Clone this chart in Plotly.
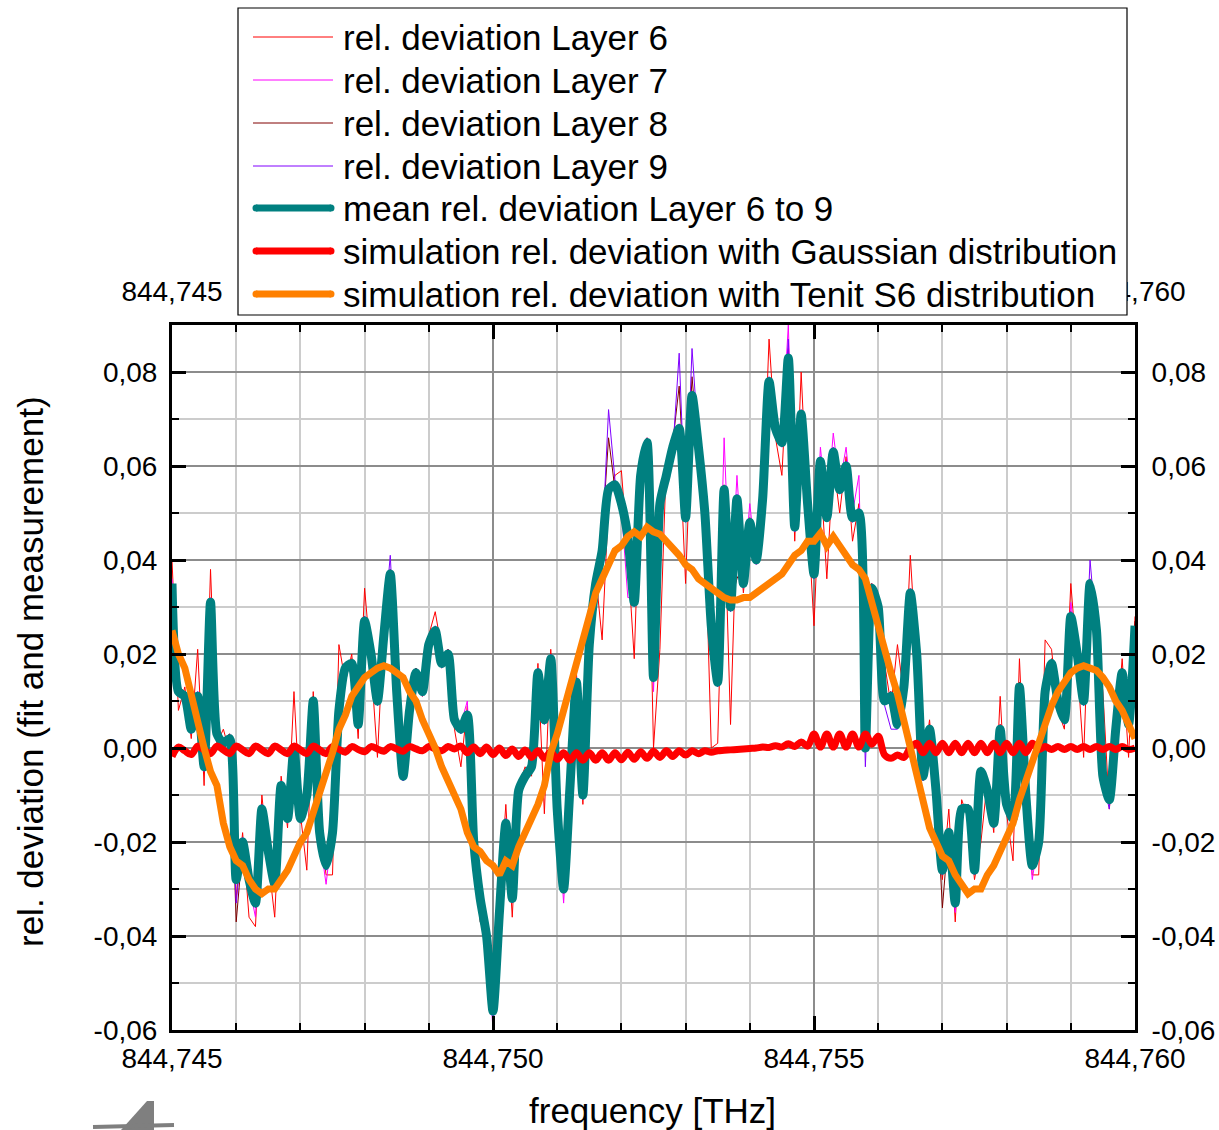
import numpy as np
import plotly.graph_objects as go

# ---------------------------------------------------------------- data
FREQ_START = 844.745   # THz
FREQ_STEP = 0.0001     # THz
N_POINTS = 151
freq = np.round(FREQ_START + FREQ_STEP * np.arange(N_POINTS), 4)

layer6 = [
    0.040, 0.008, 0.013, 0.002, 0.021, -0.008, 0.038, 0.001, 0.004, -0.001,
    -0.032, -0.018, -0.036, -0.038, -0.010, -0.024, -0.036, -0.006, -0.017, 0.012,
    -0.014, -0.026, 0.012, -0.016, -0.027, -0.027, 0.022, 0.014, 0.020, 0.002,
    0.034, 0.018, -0.002, 0.026, 0.034, 0.014, -0.005, 0.010, 0.014, 0.013,
    0.024, 0.029, 0.021, 0.018, 0.004, -0.004, 0.009, -0.022, -0.030, -0.041,
    -0.055, -0.033, -0.012, -0.036, -0.008, -0.004, -0.006, 0.018, -0.014, 0.021,
    -0.015, -0.031, -0.006, 0.016, -0.012, 0.023, 0.037, 0.023, 0.052, 0.058,
    0.059, 0.041, 0.019, 0.060, 0.063, 0.000, 0.021, 0.061, 0.062, 0.066,
    0.035, 0.073, 0.066, 0.048, 0.000, 0.001, 0.052, 0.005, 0.050, 0.033,
    0.046, 0.042, 0.051, 0.087, 0.066, 0.058, 0.085, 0.044, 0.080, 0.050,
    0.026, 0.059, 0.036, 0.061, 0.050, 0.062, 0.044, 0.052, 0.002, 0.032,
    0.028, 0.018, 0.009, 0.022, 0.011, 0.041, 0.018, -0.004, 0.006, -0.011,
    -0.028, -0.013, -0.037, -0.011, -0.015, -0.028, -0.020, -0.007, -0.018, 0.011,
    -0.014, -0.024, 0.019, -0.012, -0.027, -0.027, 0.023, 0.021, 0.008, 0.004,
    0.035, 0.018, -0.002, 0.036, 0.023, 0.012, -0.013, 0.002, 0.019, -0.002,
    0.028,
]

layer7 = [
    0.036, 0.013, 0.010, 0.005, 0.012, -0.003, 0.032, 0.004, 0.000, 0.003,
    -0.027, -0.021, -0.029, -0.036, -0.014, -0.021, -0.030, -0.009, -0.014, -0.001,
    -0.016, -0.009, 0.009, -0.019, -0.029, -0.017, 0.007, 0.018, 0.017, 0.006,
    0.026, 0.021, 0.011, 0.023, 0.038, 0.011, -0.007, 0.007, 0.017, 0.011,
    0.021, 0.024, 0.019, 0.021, 0.007, 0.005, 0.010, -0.019, -0.033, -0.039,
    -0.060, -0.036, -0.017, -0.031, -0.010, -0.007, -0.003, 0.015, 0.007, 0.018,
    -0.012, -0.033, -0.009, 0.013, -0.009, 0.021, 0.034, 0.043, 0.054, 0.057,
    0.051, 0.032, 0.032, 0.057, 0.066, 0.012, 0.053, 0.057, 0.065, 0.069,
    0.050, 0.076, 0.063, 0.051, 0.027, 0.015, 0.066, 0.031, 0.058, 0.036,
    0.052, 0.039, 0.054, 0.077, 0.069, 0.066, 0.090, 0.046, 0.070, 0.053,
    0.038, 0.064, 0.050, 0.067, 0.056, 0.064, 0.050, 0.058, -0.001, 0.035,
    0.029, 0.011, 0.012, 0.006, 0.014, 0.034, 0.019, -0.007, 0.003, -0.010,
    -0.025, -0.019, -0.035, -0.014, -0.012, -0.027, -0.006, -0.010, -0.015, 0.005,
    -0.013, -0.016, 0.012, -0.011, -0.028, -0.019, 0.013, 0.017, 0.011, 0.007,
    0.031, 0.021, 0.011, 0.034, 0.026, -0.008, -0.010, 0.005, 0.015, 0.006,
    0.025,
]

layer8 = [
    0.034, 0.013, 0.012, 0.005, 0.010, -0.003, 0.030, 0.004, 0.002, 0.003,
    -0.037, -0.021, -0.027, -0.032, -0.012, -0.021, -0.028, -0.009, -0.014, 0.001,
    -0.016, -0.011, 0.011, -0.017, -0.024, -0.019, 0.009, 0.016, 0.019, 0.004,
    0.028, 0.021, 0.011, 0.023, 0.038, 0.011, -0.005, 0.007, 0.017, 0.011,
    0.023, 0.024, 0.017, 0.021, 0.007, 0.005, 0.006, -0.021, -0.037, -0.040,
    -0.055, -0.036, -0.017, -0.031, -0.010, -0.007, -0.003, 0.015, 0.007, 0.018,
    -0.012, -0.029, -0.009, 0.013, -0.009, 0.023, 0.034, 0.045, 0.066, 0.055,
    0.051, 0.046, 0.032, 0.057, 0.066, 0.016, 0.053, 0.057, 0.065, 0.077,
    0.050, 0.079, 0.063, 0.051, 0.027, 0.015, 0.056, 0.031, 0.036, 0.039,
    0.049, 0.041, 0.054, 0.077, 0.069, 0.066, 0.082, 0.048, 0.070, 0.053,
    0.038, 0.060, 0.050, 0.062, 0.056, 0.059, 0.050, 0.049, 0.001, 0.035,
    0.031, 0.011, 0.012, 0.006, 0.014, 0.033, 0.021, -0.005, 0.005, -0.008,
    -0.034, -0.017, -0.032, -0.014, -0.012, -0.025, -0.004, -0.010, -0.015, 0.005,
    -0.011, -0.014, 0.014, -0.009, -0.024, -0.021, 0.013, 0.019, 0.011, 0.007,
    0.029, 0.019, 0.011, 0.032, 0.026, -0.005, -0.012, 0.003, 0.017, 0.004,
    0.027,
]

layer9 = [
    0.035, 0.011, 0.012, 0.003, 0.012, -0.005, 0.031, 0.002, 0.002, 0.001,
    -0.033, -0.019, -0.029, -0.034, -0.012, -0.023, -0.030, -0.007, -0.016, 0.001,
    -0.014, -0.011, 0.009, -0.019, -0.026, -0.017, 0.007, 0.018, 0.017, 0.006,
    0.028, 0.019, 0.009, 0.025, 0.041, 0.013, -0.007, 0.009, 0.015, 0.013,
    0.023, 0.026, 0.017, 0.019, 0.005, 0.003, 0.008, -0.019, -0.031, -0.041,
    -0.057, -0.034, -0.015, -0.033, -0.008, -0.005, -0.005, 0.017, 0.005, 0.020,
    -0.014, -0.029, -0.007, 0.015, -0.011, 0.021, 0.036, 0.043, 0.072, 0.057,
    0.053, 0.044, 0.030, 0.059, 0.064, 0.014, 0.051, 0.059, 0.063, 0.084,
    0.048, 0.085, 0.065, 0.049, 0.025, 0.013, 0.054, 0.029, 0.054, 0.034,
    0.047, 0.041, 0.058, 0.079, 0.067, 0.064, 0.087, 0.046, 0.072, 0.051,
    0.036, 0.062, 0.057, 0.064, 0.054, 0.061, 0.048, 0.051, -0.004, 0.033,
    0.030, 0.009, 0.004, 0.004, 0.012, 0.033, 0.019, -0.007, 0.003, -0.010,
    -0.027, -0.019, -0.034, -0.012, -0.014, -0.027, -0.006, -0.008, -0.017, 0.003,
    -0.013, -0.016, 0.012, -0.011, -0.026, -0.019, 0.011, 0.017, 0.009, 0.005,
    0.029, 0.021, 0.009, 0.040, 0.024, -0.007, -0.013, 0.005, 0.015, 0.006,
    0.025,
]

mean_layers = [
    0.035, 0.012, 0.011, 0.004, 0.011, -0.004, 0.031, 0.003, 0.001, 0.002,
    -0.028, -0.020, -0.028, -0.033, -0.013, -0.022, -0.029, -0.008, -0.015, 0.000,
    -0.015, -0.010, 0.010, -0.018, -0.025, -0.018, 0.008, 0.017, 0.018, 0.005,
    0.027, 0.020, 0.010, 0.024, 0.037, 0.012, -0.006, 0.008, 0.016, 0.012,
    0.022, 0.025, 0.018, 0.020, 0.006, 0.004, 0.007, -0.020, -0.032, -0.040,
    -0.056, -0.035, -0.016, -0.032, -0.009, -0.006, -0.004, 0.016, 0.006, 0.019,
    -0.013, -0.030, -0.008, 0.014, -0.010, 0.022, 0.035, 0.042, 0.055, 0.056,
    0.052, 0.045, 0.031, 0.058, 0.065, 0.015, 0.052, 0.058, 0.064, 0.068,
    0.049, 0.075, 0.064, 0.050, 0.026, 0.014, 0.055, 0.030, 0.053, 0.035,
    0.048, 0.040, 0.053, 0.078, 0.068, 0.065, 0.083, 0.047, 0.071, 0.052,
    0.037, 0.061, 0.049, 0.063, 0.055, 0.060, 0.049, 0.050, 0.000, 0.034,
    0.030, 0.010, 0.011, 0.005, 0.013, 0.033, 0.020, -0.006, 0.004, -0.009,
    -0.026, -0.018, -0.033, -0.013, -0.013, -0.026, -0.005, -0.009, -0.016, 0.004,
    -0.012, -0.015, 0.013, -0.010, -0.025, -0.020, 0.012, 0.018, 0.010, 0.006,
    0.028, 0.020, 0.010, 0.035, 0.025, -0.006, -0.011, 0.004, 0.016, 0.005,
    0.026,
]

sim_gaussian = [
    -0.0018, 0.0002, -0.0006, -0.0014, 0.0004, -0.0004, -0.0012, 0.0004, -0.0004, -0.0012,
    0.0004, -0.0004, -0.0012, 0.0004, -0.0004, -0.0012, 0.0004, -0.0004, -0.0012, 0.0004,
    -0.0004, -0.0012, 0.0004, -0.0004, -0.0012, 0.0003, -0.0003, -0.0009, 0.0003, -0.0003,
    -0.0008, 0.0003, -0.0002, -0.0007, 0.0003, -0.0002, -0.0007, 0.0003, -0.0002, -0.0006,
    0.0003, -0.0002, -0.0006, 0.0003, -0.0002, 0.0004, -0.0010, 0.0002, -0.0012, 0.0002,
    -0.0014, 0.0000, -0.0016, -0.0002, -0.0018, -0.0004, -0.0020, -0.0006, -0.0022, -0.0008,
    -0.0024, -0.0010, -0.0026, -0.0010, -0.0026, -0.0010, -0.0026, -0.0010, -0.0026, -0.0010,
    -0.0025, -0.0009, -0.0024, -0.0008, -0.0022, -0.0007, -0.0020, -0.0006, -0.0018, -0.0006,
    -0.0015, -0.0006, -0.0012, -0.0006, -0.0009, -0.0006, -0.0005, -0.0004, -0.0003, -0.0002,
    -0.0001, 0.0000, 0.0002, 0.0001, 0.0005, 0.0002, 0.0009, 0.0003, 0.0013, 0.0004,
    0.0030, 0.0002, 0.0030, 0.0002, 0.0030, 0.0002, 0.0030, 0.0002, 0.0030, 0.0008,
    0.0025, -0.0015, -0.0022, -0.0015, -0.0020, 0.0000, 0.0010, -0.0010, 0.0010, -0.0010,
    0.0010, -0.0010, 0.0010, -0.0010, 0.0010, -0.0010, 0.0010, -0.0010, 0.0010, -0.0010,
    0.0010, -0.0010, 0.0010, -0.0010, 0.0010, -0.0003, 0.0003, -0.0003, 0.0003, -0.0003,
    0.0003, -0.0003, 0.0003, -0.0003, 0.0003, -0.0003, 0.0003, -0.0003, 0.0003, -0.0003,
    0.0000,
]

sim_tenit_s6 = [
    0.025, 0.020, 0.017, 0.011, 0.005, 0.000, -0.005, -0.008, -0.016, -0.021,
    -0.024, -0.025, -0.028, -0.030, -0.031, -0.030, -0.030, -0.028, -0.026, -0.023,
    -0.020, -0.018, -0.014, -0.010, -0.005, -0.001, 0.004, 0.007, 0.011, 0.013,
    0.015, 0.016, 0.017, 0.0175, 0.017, 0.016, 0.015, 0.012, 0.010, 0.006,
    0.003, 0.000, -0.004, -0.007, -0.010, -0.013, -0.018, -0.021, -0.022, -0.024,
    -0.025, -0.027, -0.024, -0.025, -0.021, -0.018, -0.015, -0.012, -0.008, -0.001,
    0.003, 0.008, 0.013, 0.019, 0.023, 0.029, 0.033, 0.036, 0.039, 0.042,
    0.043, 0.045, 0.046, 0.045, 0.047, 0.046, 0.0455, 0.044, 0.043, 0.041,
    0.039, 0.038, 0.036, 0.035, 0.034, 0.033, 0.032, 0.0315, 0.0315, 0.032,
    0.032, 0.033, 0.034, 0.035, 0.036, 0.037, 0.039, 0.041, 0.042, 0.044,
    0.044, 0.0457, 0.043, 0.045, 0.043, 0.041, 0.039, 0.038, 0.036, 0.031,
    0.026, 0.020, 0.016, 0.0115, 0.006, 0.000, -0.005, -0.011, -0.017, -0.020,
    -0.023, -0.024, -0.027, -0.029, -0.031, -0.030, -0.030, -0.027, -0.025, -0.022,
    -0.019, -0.016, -0.011, -0.007, -0.002, 0.002, 0.006, 0.009, 0.012, 0.014,
    0.016, 0.017, 0.0175, 0.017, 0.0165, 0.015, 0.013, 0.010, 0.008, 0.005,
    0.002,
]

series_names = [
    "rel. deviation Layer 6",
    "rel. deviation Layer 7",
    "rel. deviation Layer 8",
    "rel. deviation Layer 9",
    "mean rel. deviation Layer 6 to 9",
    "simulation rel. deviation with Gaussian distribution",
    "simulation rel. deviation with Tenit S6 distribution",
]

x_tick_vals = [844.745, 844.750, 844.755, 844.760]
x_tick_text = ["844,745", "844,750", "844,755", "844,760"]
# on the top axis the two middle labels sit behind the legend box
x_top_tick_text = ["844,745", "", "", "844,760"]
x_minor_vals = [844.746, 844.747, 844.748, 844.749, 844.751, 844.752, 844.753,
                844.754, 844.756, 844.757, 844.758, 844.759]
y_tick_vals = [-0.06, -0.04, -0.02, 0.00, 0.02, 0.04, 0.06, 0.08]
y_tick_text = ["-0,06", "-0,04", "-0,02", "0,00", "0,02", "0,04", "0,06", "0,08"]
y_minor_vals = [-0.05, -0.03, -0.01, 0.01, 0.03, 0.05, 0.07]

X_RANGE = [844.745, 844.760]
Y_RANGE = [-0.06, 0.09]

# ---------------------------------------------------------------- styling
FONT = "Liberation Sans, Arial, Helvetica, sans-serif"
TEAL = "#008080"
ORANGE = "#FF8000"
RED = "#FF0000"
colors = ["#FF0000", "#FF00FF", "#800000", "#8000FF", TEAL, RED, ORANGE]
widths = [1, 1, 1, 1, 8, 7, 7]

W, H = 1219, 1130
ML, MR, MT, MB = 172, 84, 325, 100
PW, PH = W - ML - MR, H - MT - MB


def px_x(px):
    return (px - ML) / PW


def px_y(py):
    return (H - MB - py) / PH


fig = go.Figure()

layers = [layer6, layer7, layer8, layer9]
for vals, name, col in zip(layers, series_names[:4], colors[:4]):
    fig.add_trace(go.Scatter(x=freq, y=vals, mode="lines", name=name,
                             line=dict(color=col, width=1),
                             showlegend=False, hoverinfo="skip"))

fig.add_trace(go.Scatter(x=freq, y=mean_layers, mode="lines", name=series_names[4],
                         line=dict(color=TEAL, width=9, shape="spline", smoothing=0.6),
                         showlegend=False, hoverinfo="skip"))
fig.add_trace(go.Scatter(x=freq, y=sim_gaussian, mode="lines", name=series_names[5],
                         line=dict(color=RED, width=7, shape="spline", smoothing=1.0),
                         showlegend=False, hoverinfo="skip"))
fig.add_trace(go.Scatter(x=freq, y=sim_tenit_s6, mode="lines", name=series_names[6],
                         line=dict(color=ORANGE, width=7),
                         showlegend=False, hoverinfo="skip"))

# secondary axes carry the mirrored tick labels on top and right
fig.add_trace(go.Scatter(x=[None], y=[None], xaxis="x2", yaxis="y2",
                         showlegend=False, hoverinfo="skip"))

tickfont = dict(family=FONT, size=28, color="black")
common_x = dict(range=X_RANGE, tickmode="array", tickvals=x_tick_vals,
                ticks="inside", ticklen=14, tickwidth=3, tickcolor="black",
                showline=True, linewidth=3, linecolor="black", zeroline=False,
                tickfont=tickfont, automargin=False)
common_y = dict(range=Y_RANGE, tickmode="array", tickvals=y_tick_vals, ticktext=y_tick_text,
                ticks="inside", ticklen=14, tickwidth=3, tickcolor="black",
                showline=True, linewidth=3, linecolor="black", zeroline=False,
                tickfont=tickfont, automargin=False)

fig.update_layout(
    width=W, height=H,
    margin=dict(l=ML, r=MR, t=MT, b=MB, pad=0, autoexpand=False),
    paper_bgcolor="white", plot_bgcolor="white",
    font=dict(family=FONT, color="black"),
    showlegend=False,
    xaxis=dict(**common_x, ticktext=x_tick_text,
               showgrid=True, gridcolor="#8c8c8c", gridwidth=1.5,
               ticklabelstandoff=1,
               minor=dict(tickmode="array", tickvals=x_minor_vals, ticks="inside",
                          ticklen=7, tickwidth=2, tickcolor="black",
                          showgrid=True, gridcolor="#cccccc", gridwidth=1.5)),
    xaxis2=dict(**common_x, ticktext=x_top_tick_text,
                overlaying="x", side="top", anchor="y2", showgrid=False,
                ticklabelstandoff=10,
                minor=dict(tickmode="array", tickvals=x_minor_vals, ticks="inside",
                           ticklen=7, tickwidth=2, tickcolor="black", showgrid=False)),
    yaxis=dict(**common_y, showgrid=True, gridcolor="#8c8c8c", gridwidth=1.5,
               ticklabelstandoff=6,
               minor=dict(tickmode="array", tickvals=y_minor_vals, ticks="inside",
                          ticklen=7, tickwidth=2, tickcolor="black",
                          showgrid=True, gridcolor="#cccccc", gridwidth=1.5)),
    yaxis2=dict(**common_y, overlaying="y", side="right", anchor="x2", showgrid=False,
                ticklabelstandoff=8,
                minor=dict(tickmode="array", tickvals=y_minor_vals, ticks="inside",
                           ticklen=7, tickwidth=2, tickcolor="black", showgrid=False)),
)

# axis titles
fig.add_annotation(text="frequency [THz]", xref="paper", yref="paper",
                   x=px_x(652), y=px_y(1110), xanchor="center", yanchor="middle",
                   showarrow=False, font=dict(family=FONT, size=35, color="black"))
fig.add_annotation(text="rel. deviation (fit and measurement)", xref="paper", yref="paper",
                   x=px_x(30), y=px_y(672), xanchor="center", yanchor="middle",
                   textangle=-90, showarrow=False,
                   font=dict(family=FONT, size=35, color="black"))

# legend box drawn above the top tick labels
shapes = [dict(type="rect", xref="paper", yref="paper", layer="above",
               x0=px_x(238), x1=px_x(1127), y0=px_y(315), y1=px_y(8),
               fillcolor="white", line=dict(color="black", width=1.2))]
row_y = [37, 80, 123, 166, 208, 251, 294]
CAP = 3.5
for name, col, wid, ry in zip(series_names, colors, widths, row_y):
    if wid > 1:
        x0, x1, lw = 256, 331, 7
        # rounded ends of the thick sample lines
        for cx in (x0, x1):
            shapes.append(dict(type="circle", xref="paper", yref="paper", layer="above",
                               x0=px_x(cx - CAP), x1=px_x(cx + CAP),
                               y0=px_y(ry + CAP), y1=px_y(ry - CAP),
                               fillcolor=col, line=dict(width=0)))
    else:
        x0, x1, lw = 253, 333, 1
    shapes.append(dict(type="line", xref="paper", yref="paper", layer="above",
                       x0=px_x(x0), x1=px_x(x1), y0=px_y(ry), y1=px_y(ry),
                       line=dict(color=col, width=lw)))
    fig.add_annotation(text=name, xref="paper", yref="paper",
                       x=px_x(341), y=px_y(ry), xanchor="left", yanchor="middle",
                       showarrow=False, font=dict(family=FONT, size=35, color="black"))

# logo fragment at the lower left corner
shapes.append(dict(type="path", xref="paper", yref="paper", layer="above",
                   path="M {a},{b} L {c},{d} L {e},{d} L {e},{b} Z".format(
                       a=px_x(121), b=px_y(1130), c=px_x(147), d=px_y(1101), e=px_x(154)),
                   fillcolor="#7f7f7f", line=dict(width=0)))
shapes.append(dict(type="line", xref="paper", yref="paper", layer="above",
                   x0=px_x(93), x1=px_x(174), y0=px_y(1127), y1=px_y(1125),
                   line=dict(color="#7f7f7f", width=4)))
fig.update_layout(shapes=shapes)

fig.write_html("out.html")
